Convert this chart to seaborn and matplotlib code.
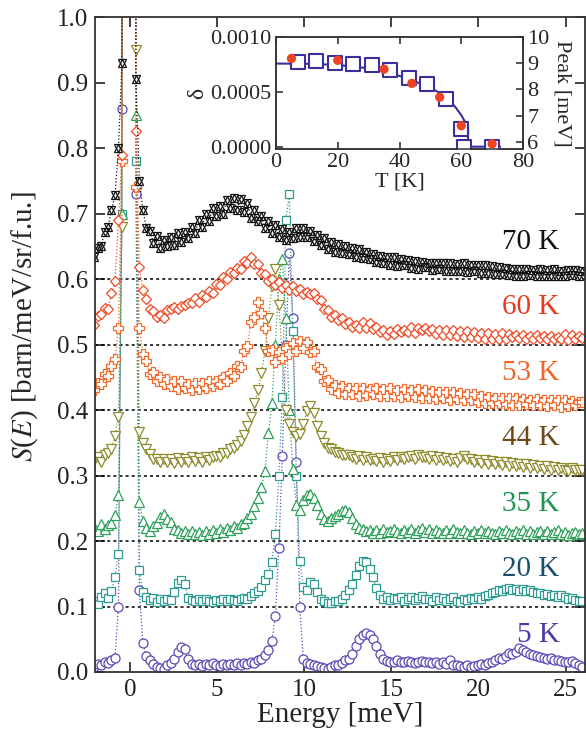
import matplotlib
matplotlib.use("Agg")
import matplotlib.pyplot as plt
import numpy as np
import pandas as pd
import seaborn as sns

# energy bins [meV]
energy = np.round(np.arange(-2.05, 25.96, 0.2), 2)

# S(E) per temperature, without the vertical offset (30 = elastic line, off scale)
s_5k = [0.008, 0.012, 0.010, 0.016, 0.014, 0.018, 0.022, 0.100, 0.860, 30,
        30, 30, 0.730, 0.125, 0.045, 0.025, 0.018, 0.012, 0.008, 0.006,
        0.005, 0.010, 0.014, 0.020, 0.030, 0.038, 0.035, 0.020, 0.012, 0.010,
        0.012, 0.009, 0.012, 0.010, 0.013, 0.011, 0.009, 0.012, 0.010, 0.012,
        0.010, 0.013, 0.011, 0.014, 0.012, 0.015, 0.014, 0.018, 0.020, 0.026,
        0.034, 0.048, 0.085, 0.190, 0.330, 0.500, 0.640, 0.540, 0.320, 0.100,
        0.020, 0.014, 0.012, 0.010, 0.009, 0.008, 0.006, 0.004, 0.008, 0.011,
        0.010, 0.014, 0.018, 0.020, 0.028, 0.040, 0.050, 0.056, 0.060, 0.057,
        0.050, 0.040, 0.028, 0.020, 0.017, 0.015, 0.016, 0.018, 0.015, 0.016,
        0.017, 0.015, 0.014, 0.016, 0.017, 0.015, 0.016, 0.014, 0.015, 0.012,
        0.015, 0.012, 0.018, 0.011, 0.010, 0.009, 0.008, 0.010, 0.007, 0.009,
        0.010, 0.012, 0.011, 0.014, 0.015, 0.018, 0.021, 0.020, 0.025, 0.029,
        0.028, 0.031, 0.036, 0.033, 0.030, 0.028, 0.026, 0.024, 0.023, 0.021,
        0.020, 0.021, 0.019, 0.018, 0.017, 0.016, 0.015, 0.017, 0.014, 0.010,
        0.008]
s_20k = [0.008, 0.004, 0.014, 0.020, 0.013, 0.024, 0.045, 0.080, 0.600, 30,
         30, 30, 0.680, 0.055, 0.022, 0.015, 0.010, 0.013, 0.007, 0.011,
         0.009, 0.012, 0.010, 0.022, 0.036, 0.040, 0.034, 0.013, 0.010, 0.008,
         0.011, 0.008, 0.012, 0.009, 0.007, 0.010, 0.008, 0.011, 0.009, 0.012,
         0.010, 0.008, 0.011, 0.013, 0.012, 0.016, 0.020, 0.024, 0.030, 0.040,
         0.050, 0.068, 0.110, 0.200, 0.320, 0.590, 0.630, 0.420, 0.200, 0.070,
         0.030, 0.025, 0.038, 0.035, 0.022, 0.012, 0.008, 0.006, 0.005, 0.009,
         0.008, 0.012, 0.018, 0.025, 0.035, 0.048, 0.062, 0.070, 0.068, 0.058,
         0.045, 0.028, 0.018, 0.012, 0.014, 0.010, 0.013, 0.011, 0.015, 0.009,
         0.012, 0.014, 0.010, 0.013, 0.016, 0.011, 0.012, 0.009, 0.014, 0.010,
         0.013, 0.008, 0.011, 0.014, 0.009, 0.007, 0.012, 0.010, 0.013, 0.011,
         0.014, 0.012, 0.016, 0.018, 0.020, 0.022, 0.025, 0.023, 0.026, 0.028,
         0.025, 0.027, 0.024, 0.026, 0.023, 0.025, 0.022, 0.020, 0.021, 0.018,
         0.019, 0.016, 0.018, 0.015, 0.017, 0.014, 0.012, 0.013, 0.010, 0.009,
         0.008]
s_35k = [0.022, 0.016, 0.026, 0.019, 0.025, 0.027, 0.040, 0.070, 0.500, 30,
         30, 30, 0.650, 0.060, 0.030, 0.020, 0.015, 0.023, 0.027, 0.037,
         0.042, 0.034, 0.029, 0.019, 0.017, 0.012, 0.016, 0.011, 0.015, 0.010,
         0.014, 0.009, 0.015, 0.011, 0.017, 0.012, 0.018, 0.014, 0.020, 0.017,
         0.023, 0.020, 0.026, 0.027, 0.035, 0.041, 0.053, 0.065, 0.083, 0.107,
         0.165, 0.210, 0.300, 0.400, 0.430, 0.340, 0.200, 0.110, 0.055, 0.048,
         0.062, 0.070, 0.072, 0.065, 0.055, 0.042, 0.033, 0.030, 0.035, 0.038,
         0.042, 0.046, 0.048, 0.044, 0.035, 0.026, 0.020, 0.018, 0.015, 0.017,
         0.013, 0.017, 0.012, 0.019, 0.014, 0.015, 0.018, 0.014, 0.012, 0.017,
         0.014, 0.019, 0.013, 0.017, 0.020, 0.014, 0.018, 0.013, 0.017, 0.014,
         0.012, 0.017, 0.013, 0.018, 0.014, 0.012, 0.017, 0.013, 0.011, 0.016,
         0.013, 0.017, 0.012, 0.016, 0.013, 0.011, 0.016, 0.012, 0.017, 0.013,
         0.011, 0.016, 0.012, 0.017, 0.011, 0.015, 0.010, 0.014, 0.016, 0.011,
         0.015, 0.010, 0.014, 0.017, 0.011, 0.014, 0.009, 0.013, 0.014, 0.010,
         0.012]
s_44k = [0.024, 0.029, 0.021, 0.031, 0.034, 0.041, 0.060, 0.090, 0.380, 30,
         30, 30, 0.650, 0.066, 0.050, 0.040, 0.033, 0.026, 0.025, 0.021,
         0.026, 0.020, 0.025, 0.019, 0.027, 0.021, 0.026, 0.020, 0.028, 0.022,
         0.027, 0.021, 0.029, 0.023, 0.028, 0.030, 0.028, 0.034, 0.035, 0.041,
         0.042, 0.047, 0.052, 0.062, 0.075, 0.090, 0.110, 0.130, 0.156, 0.190,
         0.240, 0.290, 0.315, 0.260, 0.180, 0.100, 0.078, 0.066, 0.060, 0.064,
         0.078, 0.098, 0.106, 0.096, 0.076, 0.060, 0.050, 0.042, 0.040, 0.036,
         0.035, 0.031, 0.031, 0.032, 0.029, 0.025, 0.030, 0.024, 0.028, 0.023,
         0.026, 0.022, 0.027, 0.021, 0.026, 0.022, 0.028, 0.023, 0.029, 0.025,
         0.028, 0.030, 0.025, 0.032, 0.029, 0.029, 0.025, 0.030, 0.024, 0.028,
         0.023, 0.027, 0.022, 0.026, 0.021, 0.027, 0.030, 0.026, 0.025, 0.021,
         0.024, 0.019, 0.023, 0.018, 0.022, 0.017, 0.021, 0.016, 0.020, 0.015,
         0.019, 0.014, 0.018, 0.013, 0.017, 0.012, 0.016, 0.011, 0.015, 0.010,
         0.014, 0.009, 0.013, 0.008, 0.012, 0.009, 0.007, 0.011, 0.008, 0.008,
         0.009]
s_53k = [0.030, 0.042, 0.040, 0.055, 0.052, 0.068, 0.078, 0.125, 0.380, 30,
         30, 30, 0.340, 0.125, 0.085, 0.075, 0.055, 0.058, 0.044, 0.050,
         0.040, 0.047, 0.036, 0.044, 0.032, 0.045, 0.033, 0.040, 0.030, 0.042,
         0.032, 0.041, 0.034, 0.044, 0.036, 0.045, 0.040, 0.050, 0.044, 0.056,
         0.052, 0.068, 0.066, 0.090, 0.098, 0.135, 0.142, 0.165, 0.148, 0.125,
         0.090, 0.092, 0.074, 0.088, 0.080, 0.095, 0.086, 0.102, 0.090, 0.106,
         0.094, 0.104, 0.088, 0.090, 0.066, 0.062, 0.044, 0.046, 0.032, 0.038,
         0.026, 0.036, 0.024, 0.034, 0.025, 0.033, 0.022, 0.034, 0.023, 0.032,
         0.024, 0.033, 0.022, 0.032, 0.021, 0.034, 0.022, 0.031, 0.020, 0.032,
         0.022, 0.031, 0.020, 0.032, 0.019, 0.030, 0.018, 0.029, 0.017, 0.028,
         0.018, 0.028, 0.016, 0.027, 0.017, 0.026, 0.015, 0.025, 0.016, 0.024,
         0.012, 0.021, 0.010, 0.020, 0.011, 0.019, 0.010, 0.018, 0.009, 0.019,
         0.008, 0.018, 0.007, 0.017, 0.009, 0.016, 0.008, 0.017, 0.007, 0.015,
         0.006, 0.016, 0.007, 0.015, 0.005, 0.016, 0.006, 0.014, 0.007, 0.013,
         0.012]
s_60k = [0.030, 0.043, 0.047, 0.056, 0.055, 0.078, 0.097, 0.190, 0.290, 30,
         30, 30, 0.326, 0.118, 0.083, 0.070, 0.055, 0.052, 0.042, 0.045,
         0.041, 0.053, 0.054, 0.058, 0.055, 0.059, 0.060, 0.063, 0.063, 0.071,
         0.065, 0.075, 0.072, 0.082, 0.079, 0.093, 0.091, 0.103, 0.100, 0.111,
         0.109, 0.117, 0.115, 0.127, 0.125, 0.133, 0.123, 0.123, 0.109, 0.108,
         0.097, 0.100, 0.091, 0.095, 0.087, 0.091, 0.084, 0.089, 0.082, 0.085,
         0.077, 0.081, 0.077, 0.079, 0.069, 0.068, 0.055, 0.053, 0.042, 0.045,
         0.037, 0.040, 0.031, 0.035, 0.027, 0.030, 0.026, 0.034, 0.025, 0.033,
         0.024, 0.027, 0.019, 0.023, 0.015, 0.020, 0.016, 0.024, 0.019, 0.023,
         0.019, 0.027, 0.018, 0.026, 0.022, 0.025, 0.021, 0.024, 0.016, 0.023,
         0.015, 0.023, 0.014, 0.022, 0.013, 0.021, 0.012, 0.020, 0.011, 0.019,
         0.010, 0.018, 0.009, 0.017, 0.008, 0.016, 0.009, 0.017, 0.008, 0.016,
         0.011, 0.015, 0.010, 0.014, 0.009, 0.013, 0.009, 0.014, 0.010, 0.013,
         0.008, 0.013, 0.009, 0.012, 0.008, 0.016, 0.007, 0.015, 0.008, 0.013,
         0.010]
s_70k = [0.034, 0.048, 0.050, 0.072, 0.080, 0.105, 0.128, 0.200, 0.330, 30,
         30, 30, 0.305, 0.150, 0.105, 0.078, 0.074, 0.055, 0.066, 0.048,
         0.060, 0.050, 0.064, 0.052, 0.070, 0.056, 0.072, 0.062, 0.080, 0.070,
         0.090, 0.080, 0.100, 0.088, 0.108, 0.096, 0.112, 0.100, 0.120, 0.108,
         0.124, 0.106, 0.122, 0.102, 0.116, 0.094, 0.106, 0.088, 0.096, 0.078,
         0.088, 0.070, 0.082, 0.064, 0.076, 0.060, 0.072, 0.062, 0.078, 0.064,
         0.078, 0.064, 0.074, 0.058, 0.068, 0.052, 0.062, 0.046, 0.056, 0.042,
         0.054, 0.040, 0.050, 0.038, 0.048, 0.034, 0.046, 0.032, 0.042, 0.030,
         0.038, 0.026, 0.036, 0.024, 0.034, 0.022, 0.033, 0.020, 0.030, 0.021,
         0.029, 0.017, 0.028, 0.016, 0.026, 0.018, 0.025, 0.014, 0.024, 0.015,
         0.025, 0.013, 0.024, 0.012, 0.023, 0.012, 0.024, 0.011, 0.022, 0.012,
         0.021, 0.010, 0.022, 0.009, 0.020, 0.008, 0.018, 0.007, 0.017, 0.006,
         0.016, 0.005, 0.015, 0.004, 0.016, 0.006, 0.014, 0.004, 0.015, 0.005,
         0.014, 0.004, 0.015, 0.005, 0.013, 0.004, 0.014, 0.006, 0.014, 0.004,
         0.012]

temps = ["5 K", "20 K", "35 K", "44 K", "53 K", "60 K", "70 K"]
spectra = [s_5k, s_20k, s_35k, s_44k, s_53k, s_60k, s_70k]
offsets = [0.0, 0.1, 0.2, 0.3, 0.4, 0.5, 0.6]
marker_colors = ["#5a4ab5", "#2e9a90", "#2ea05a", "#8e8b2c", "#f36b2c", "#ee4b26", "#111111"]
label_colors = ["#4b3aa8", "#1a4f6e", "#1e9650", "#6b4a18", "#f0652a", "#e8391f", "#111111"]
markers = ["o", "s", "^", "v", "P", "D", "^"]
msizes = [6.5, 6.0, 6.5, 6.5, 6.5, 5.5, 6.0]

# inset: order parameter and soft mode energy
t_delta = [7, 13, 19, 25, 31, 37, 43, 49, 55, 60, 61, 70]
delta = [0.000773, 0.000782, 0.000764, 0.000752, 0.000742, 0.000697,
         0.000630, 0.000570, 0.000436, 0.000158, 0.0, 0.0]
t_fit = [0, 10, 20, 30, 35, 40, 45, 50, 55, 58, 60, 61.5, 62.2, 62.2, 72.6]
delta_fit = [0.000758, 0.000756, 0.000745, 0.000715, 0.00069, 0.000645, 0.000595,
             0.00054, 0.000455, 0.000364, 0.000288, 0.000212, 0.00017, 0.0, 0.0]
t_peak = [5, 20, 35, 44, 53, 60, 70]
peak = [9.18, 9.11, 8.77, 8.23, 7.70, 6.61, 5.92]

sns.set_theme(style="ticks")
plt.rcParams["font.family"] = ["Liberation Serif", "DejaVu Serif"]
plt.rcParams["mathtext.fontset"] = "stix"

fig = plt.figure(figsize=(5.86, 7.45), dpi=100)
ax = fig.add_axes([0.162, 0.098, 0.836, 0.879])

for y0 in offsets[1:]:
    ax.axhline(y0, color="black", ls=(0, (2, 2)), lw=1.1, zorder=1)

for name, vals, off, mc, lc, m, ms in zip(temps, spectra, offsets, marker_colors,
                                          label_colors, markers, msizes):
    df = pd.DataFrame({"E": energy, "S": np.array(vals) + off})
    sns.lineplot(data=df, x="E", y="S", ax=ax, color=mc, linestyle=":", linewidth=0.9,
                 marker=m, markersize=ms, markerfacecolor="white", markeredgecolor=mc,
                 markeredgewidth=0.9, estimator=None, sort=False, zorder=2)
    if name == "70 K":
        # second triangle makes a star of David
        sns.lineplot(data=df, x="E", y="S", ax=ax, color=mc, linestyle="none",
                     marker="v", markersize=ms, markerfacecolor="none", markeredgecolor=mc,
                     markeredgewidth=0.9, estimator=None, sort=False, zorder=2)
    ax.text(24.65, off + 0.057, name, ha="right", va="center", color=lc, fontsize=21)

ax.set_xlim(-2, 26.1)
ax.set_ylim(0, 1.0)
ax.set_xticks([0, 5, 10, 15, 20, 25])
ax.set_yticks(np.arange(0, 1.01, 0.1))
ax.set_yticklabels([f"{v:.1f}" for v in np.arange(0, 1.01, 0.1)])
ax.tick_params(direction="in", top=True, right=True, length=7, width=1.2,
               labelsize=18, colors="#222222", pad=5)
ax.set_xlabel("Energy [meV]", fontsize=21, labelpad=1)
ax.set_ylabel("$S$($E$) [barn/meV/sr/f.u.]", fontsize=21)
ax.yaxis.set_label_coords(-0.112, 0.527)
for sp in ax.spines.values():
    sp.set_linewidth(1.3)
    sp.set_color("#333333")

# inset
axi = fig.add_axes([0.471, 0.800, 0.4215, 0.1503])
axi.set_facecolor("white")
blue = "#3b2f9e"
red = "#ee4423"
sns.lineplot(x=t_fit, y=delta_fit, ax=axi, color=blue, linewidth=1.5,
             estimator=None, sort=False, zorder=2)
sns.scatterplot(x=t_delta, y=delta, ax=axi, marker="s", s=115, color="white",
                edgecolor=blue, linewidth=1.5, zorder=3)
axi.set_xlim(0, 80)
axi.set_ylim(-0.0000212, 0.001)
axi.set_xticks([0, 20, 40, 60, 80])
axi.set_yticks([0, 0.0005, 0.001])
axi.set_yticklabels(["0.0000", "0.0005", "0.0010"])
axi.tick_params(direction="in", top=True, length=5, width=1.1, labelsize=16, pad=3)
axi.set_xlabel("T [K]", fontsize=16, labelpad=0)
axi.set_ylabel("δ", fontsize=17, labelpad=2)

axr = axi.twinx()
sns.scatterplot(x=t_peak, y=peak, ax=axr, color=red, s=45, edgecolor="none", zorder=4)
axr.set_ylim(5.72, 10)
axr.set_yticks([6, 7, 8, 9, 10])
axr.tick_params(direction="in", length=5, width=1.1, labelsize=16, pad=3)
axr.set_ylabel("Peak [meV]", fontsize=16, rotation=270, va="bottom", labelpad=2)
for a in (axi, axr):
    for sp in a.spines.values():
        sp.set_linewidth(1.1)
        sp.set_color("#333333")

fig.savefig("out.png", dpi=100)
